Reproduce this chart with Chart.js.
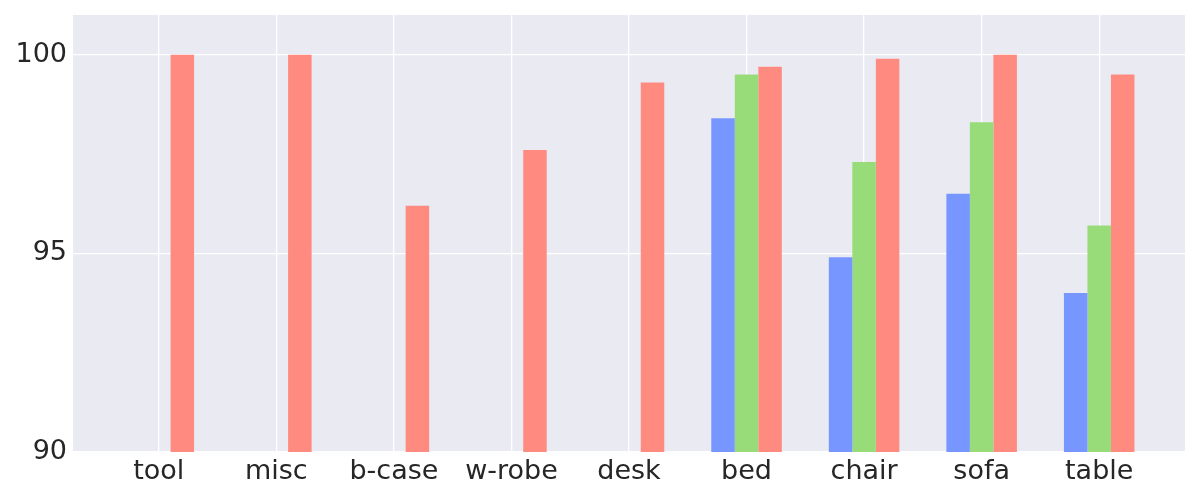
<!DOCTYPE html>
<html>
<head>
<meta charset="utf-8">
<script src="https://cdn.jsdelivr.net/npm/chart.js@4/dist/chart.umd.min.js"></script>
<style>
    html, body { margin: 0; padding: 0; background: #ffffff; }
    #wrap { width: 1200px; height: 500px; }
</style>
</head>
<body>
<div id="wrap"><canvas id="grafico" width="1200" height="500"></canvas></div>
<script>
const CATEGORIAS = ['tool', 'misc', 'b-case', 'w-robe', 'desk', 'bed', 'chair', 'sofa', 'table'];
const SERIE_AZUL = [null, null, null, null, null, 98.4, 94.9, 96.5, 94.0];
const SERIE_VERDE = [null, null, null, null, null, 99.5, 97.3, 98.3, 95.7];
const SERIE_VERMELHA = [100.0, 100.0, 96.2, 97.6, 99.3, 99.7, 99.9, 100.0, 99.5];
const TICKS_Y = [90, 95, 100];

const COR_TEXTO = '#262626';
const COR_FUNDO = '#eaeaf2';

function paraPontos(valores) {
    return valores.map((v, i) => ({ x: i, y: v }));
}

const fundoPlot = {
    id: 'fundoPlot',
    beforeDraw(chart) {
        const { ctx, chartArea: a } = chart;
        ctx.save();
        ctx.fillStyle = COR_FUNDO;
        ctx.fillRect(a.left, a.top, a.right - a.left, a.bottom - a.top);
        ctx.restore();
    }
};

Chart.defaults.font.family = "'DejaVu Sans', sans-serif";
Chart.defaults.font.size = 27;
Chart.defaults.color = COR_TEXTO;

new Chart(document.getElementById('grafico'), {
    type: 'bar',
    data: {
        datasets: [
            { label: 'azul', data: paraPontos(SERIE_AZUL), backgroundColor: '#7896ff' },
            { label: 'verde', data: paraPontos(SERIE_VERDE), backgroundColor: '#97dc78' },
            { label: 'vermelha', data: paraPontos(SERIE_VERMELHA), backgroundColor: '#ff8b80' }
        ]
    },
    options: {
        responsive: false,
        animation: false,
        devicePixelRatio: 1,
        categoryPercentage: 0.6,
        barPercentage: 1.0,
        layout: { padding: { top: 15, right: 15, left: 0, bottom: 0 } },
        plugins: { legend: { display: false }, tooltip: { enabled: false } },
        scales: {
            x: {
                type: 'linear',
                min: -0.73,
                max: 8.73,
                offset: false,
                afterBuildTicks(scale) {
                    scale.ticks = CATEGORIAS.map((_, i) => ({ value: i }));
                },
                afterFit(scale) {
                    scale.height = 48;
                    scale.paddingLeft = 0;
                    scale.paddingRight = 0;
                },
                ticks: {
                    autoSkip: false,
                    maxRotation: 0,
                    padding: 4,
                    callback: (v) => CATEGORIAS[v]
                },
                grid: { color: '#ffffff', lineWidth: 1.3, drawTicks: false, offset: false },
                border: { display: false }
            },
            y: {
                min: 90,
                max: 101,
                afterBuildTicks(scale) {
                    scale.ticks = TICKS_Y.map(v => ({ value: v }));
                },
                afterFit(scale) {
                    scale.width = 73;
                    scale.paddingTop = 0;
                    scale.paddingBottom = 0;
                },
                ticks: { padding: 6 },
                grid: { color: '#ffffff', lineWidth: 1.3, drawTicks: false },
                border: { display: false }
            }
        }
    },
    plugins: [fundoPlot]
});
</script>
</body>
</html>
